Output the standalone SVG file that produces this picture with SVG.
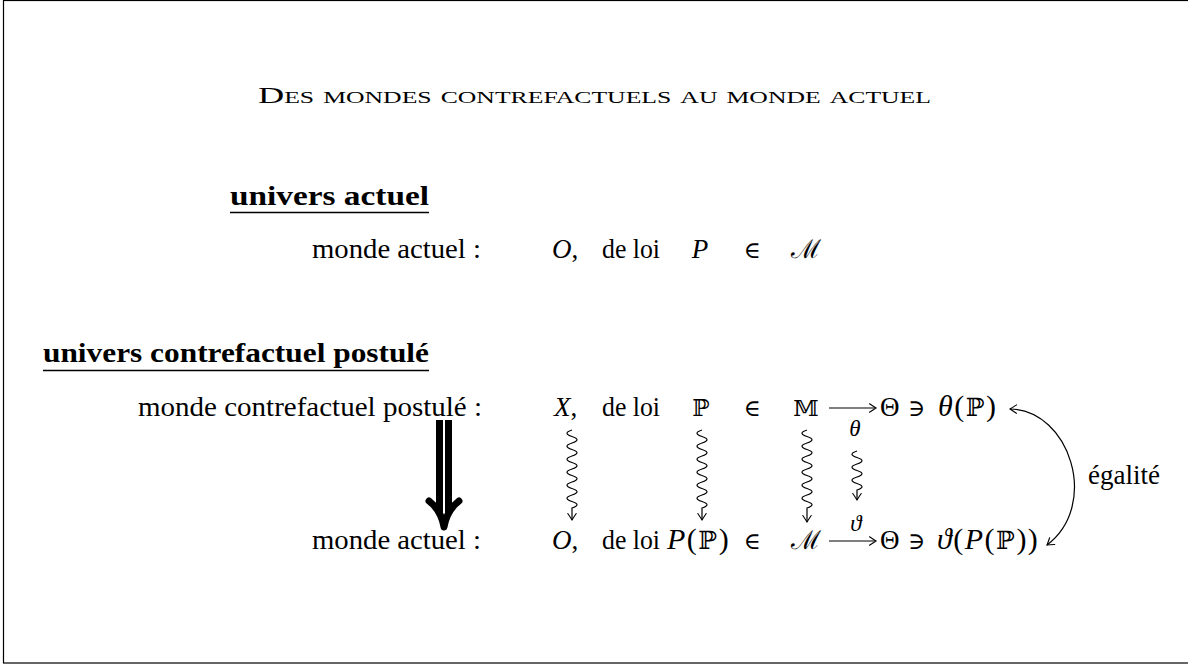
<svg xmlns="http://www.w3.org/2000/svg" width="1188" height="665" viewBox="0 0 1188 665">
<defs>
<marker id="ah" viewBox="-8 -5 10 10" refX="0" refY="0" markerWidth="10" markerHeight="10" markerUnits="userSpaceOnUse" orient="auto-start-reverse">
<path d="M -6.5 -4.2 Q -2 -1.2 0 0 Q -2 1.2 -6.5 4.2" fill="none" stroke="#000" stroke-width="1.1" stroke-linecap="round"/>
</marker>
</defs>
<style>
.t{font-family:"Liberation Serif","DejaVu Serif",serif;font-size:27px;fill:#000}
.i{font-style:italic}
.b{font-weight:bold;font-size:27px}
.m{font-family:"DejaVu Serif","Liberation Serif",serif;font-size:23px;font-style:normal}
.f{font-size:30px;letter-spacing:1.5px}
.ln{stroke:#000;fill:none;stroke-width:1.2}
.sq{stroke:#000;fill:none;stroke-width:1.2}
</style>
<rect x="3.5" y="0.5" width="1200" height="662.5" fill="#fff" stroke="#000" stroke-width="1.2"/>

<g id="title">
<text class="t" x="258" y="103" style="font-variant:small-caps;font-size:24px" textLength="673" lengthAdjust="spacingAndGlyphs">Des mondes contrefactuels au monde actuel</text>
</g>

<g id="heading-actuel">
<text class="t b" x="230" y="205" textLength="199" lengthAdjust="spacingAndGlyphs">univers actuel</text>
<line x1="230" y1="212.5" x2="429" y2="212.5" stroke="#000" stroke-width="1.3"/>
</g>

<g id="row0">
<text class="t" x="312" y="258" textLength="169" lengthAdjust="spacingAndGlyphs">monde actuel :</text>
<text class="t i" x="552" y="258">O<tspan font-style="normal">,</tspan></text>
<text class="t" x="602" y="258" textLength="58" lengthAdjust="spacingAndGlyphs">de loi</text>
<text class="t i" x="700" y="258" text-anchor="middle">P</text>
<text class="t m" x="752" y="258" text-anchor="middle">∈</text>
<text class="t m" x="806" y="258" text-anchor="middle" style="font-size:26px">ℳ</text>
</g>

<g id="heading-contrefactuel">
<text class="t b" x="43" y="362" textLength="386" lengthAdjust="spacingAndGlyphs">univers contrefactuel postulé</text>
<line x1="43" y1="370.5" x2="429" y2="370.5" stroke="#000" stroke-width="1.3"/>
</g>

<g id="row1">
<text class="t" x="138" y="416" textLength="344" lengthAdjust="spacingAndGlyphs">monde contrefactuel postulé :</text>
<text class="t i" x="554" y="416">X<tspan font-style="normal">,</tspan></text>
<text class="t" x="602" y="416" textLength="58" lengthAdjust="spacingAndGlyphs">de loi</text>
<text class="t m" x="701" y="416" text-anchor="middle">ℙ</text>
<text class="t m" x="752" y="416" text-anchor="middle">∈</text>
<text class="t m" x="806" y="416" text-anchor="middle">𝕄</text>
<text class="t" x="880" y="416">Θ</text>
<text class="t m" x="908" y="416">∋</text>
<text class="t f" x="938" y="416"><tspan font-style="italic">θ</tspan>(<tspan class="m" style="font-size:25px">ℙ</tspan>)</text>
</g>

<g id="row2">
<text class="t" x="312" y="549" textLength="169" lengthAdjust="spacingAndGlyphs">monde actuel :</text>
<text class="t i" x="552" y="549">O<tspan font-style="normal">,</tspan></text>
<text class="t" x="602" y="549" textLength="58" lengthAdjust="spacingAndGlyphs">de loi</text>
<text class="t f" x="667" y="549"><tspan font-style="italic">P</tspan>(<tspan class="m" style="font-size:25px">ℙ</tspan>)</text>
<text class="t m" x="752" y="549" text-anchor="middle">∈</text>
<text class="t m" x="806" y="549" text-anchor="middle" style="font-size:26px">ℳ</text>
<text class="t" x="880" y="549">Θ</text>
<text class="t m" x="908" y="549">∋</text>
<text class="t f" x="937" y="549"><tspan font-style="italic">ϑ</tspan>(<tspan font-style="italic">P</tspan>(<tspan class="m" style="font-size:25px">ℙ</tspan>))</text>
</g>

<g id="labels">
<text class="t i" x="855" y="436" text-anchor="middle" style="font-size:23px">θ</text>
<text class="t i" x="856" y="531" text-anchor="middle" style="font-size:23px">ϑ</text>
<text class="t" x="1088" y="484" textLength="72" lengthAdjust="spacingAndGlyphs">égalité</text>
</g>

<g id="connectors">
<line class="ln" x1="829" y1="408" x2="876" y2="408" marker-end="url(#ah)"/>
<line class="ln" x1="829" y1="541" x2="876" y2="541" marker-end="url(#ah)"/>
<path class="sq" d="M 572 430 q -10 3.25 0 6.5 t 0 6.5 t 0 6.5 t 0 6.5 t 0 6.5 t 0 6.5 t 0 6.5 t 0 6.5 t 0 6.5 t 0 6.5 t 0 6.5 t 0 6.5 l 0 12" marker-end="url(#ah)"/>
<path class="sq" d="M 702 430 q -10 3.25 0 6.5 t 0 6.5 t 0 6.5 t 0 6.5 t 0 6.5 t 0 6.5 t 0 6.5 t 0 6.5 t 0 6.5 t 0 6.5 t 0 6.5 t 0 6.5 l 0 12" marker-end="url(#ah)"/>
<path class="sq" d="M 807 430 q -10 3.25 0 6.5 t 0 6.5 t 0 6.5 t 0 6.5 t 0 6.5 t 0 6.5 t 0 6.5 t 0 6.5 t 0 6.5 t 0 6.5 t 0 6.5 t 0 6.5 l 0 14" marker-end="url(#ah)"/>
<path class="sq" d="M 857 451 q -10 3.25 0 6.5 t 0 6.5 t 0 6.5 t 0 6.5 t 0 6.5 t 0 6.5 l 0 10" marker-end="url(#ah)"/>
<path class="ln" d="M 1010 409 C 1070 410 1100 505 1047 545" marker-start="url(#ah)" marker-end="url(#ah)"/>
<g id="implies">
<line x1="439.5" y1="420" x2="439.5" y2="512" stroke="#000" stroke-width="7"/>
<line x1="448.5" y1="420" x2="448.5" y2="512" stroke="#000" stroke-width="7"/>
<path d="M 429 501 Q 441 510 444 527 Q 447 510 459 501" fill="none" stroke="#000" stroke-width="7" stroke-linecap="round" stroke-linejoin="round"/>
</g>
</g>
</svg>
